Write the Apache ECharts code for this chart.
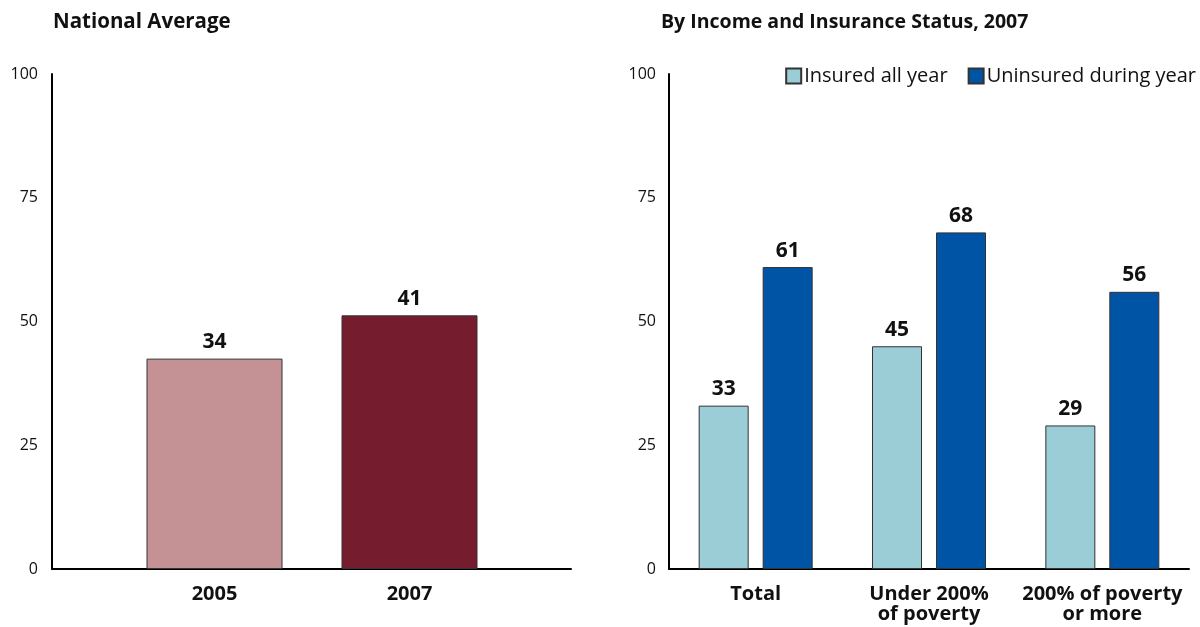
<!DOCTYPE html>
<html><head><meta charset="utf-8">
<script src="https://cdn.jsdelivr.net/npm/echarts@6/dist/echarts.min.js"></script>
<style>html,body{margin:0;padding:0;background:#fff}#c{width:1200px;height:627px}</style>
</head><body><div id="c"></div>
<script>
// Left panel: national average (drawn on a 0-80 scale, ticks labelled 0-100 as in the source)
const yearCats = ['2005', '2007'];
const nationalValues = [34, 41];
const leftTickLabels = ['0', '25', '50', '75', '100'];

// Right panel: by income and insurance status, 2007
const groupCats = ['Total', 'Under 200%\nof poverty', '200% of poverty\nor more'];
const insuredValues = [33, 45, 29];
const uninsuredValues = [61, 68, 56];
const seriesNames = ['Insured all year', 'Uninsured during year'];

const FONT = '"Open Sans", Lato, sans-serif';
const chart = echarts.init(document.getElementById('c'));
const barLabel = {show: true, position: 'top', distance: 6, fontFamily: FONT, fontWeight: 'bold', fontSize: 21, color: '#111'};
const axLine = {show: true, lineStyle: {color: '#000', width: 2}};

chart.setOption({
  animation: false,
  title: [
    {text: 'National Average', left: 53, top: 12, padding: 0, textStyle: {fontFamily: FONT, fontWeight: 'bold', fontSize: 20.5, color: '#111'}},
    {text: 'By Income and Insurance Status, 2007', left: 661, top: 12, padding: 0, textStyle: {fontFamily: FONT, fontWeight: 'bold', fontSize: 19.5, color: '#111'}}
  ],
  legend: {
    right: 4, top: 66, padding: 0, itemWidth: 15, itemHeight: 15, itemGap: 20,
    textStyle: {fontFamily: FONT, fontSize: 20, color: '#111', padding: [0, 0, 0, -2]},
    data: seriesNames.map(n => ({name: n, icon: 'rect'}))
  },
  grid: [
    {left: 52, right: 629, top: 74, bottom: 58, outerBoundsMode: 'none'},   // left axes frame
    {left: 117, right: 693, top: 74, bottom: 58, outerBoundsMode: 'none'},  // left bars
    {left: 669, right: 11, top: 74, bottom: 58, outerBoundsMode: 'none'}    // right panel
  ],
  xAxis: [
    {gridIndex: 0, type: 'value', min: 0, max: 1, axisLine: axLine, axisTick: {show: false}, axisLabel: {show: false}, splitLine: {show: false}},
    {gridIndex: 1, type: 'category', data: yearCats, axisLine: {show: false}, axisTick: {show: false},
     axisLabel: {fontFamily: FONT, fontWeight: 'bold', fontSize: 20, color: '#111', margin: 15, lineHeight: 20}},
    {gridIndex: 2, type: 'category', data: groupCats, axisLine: axLine, axisTick: {show: false},
     axisLabel: {fontFamily: FONT, fontWeight: 'bold', fontSize: 20, color: '#111', margin: 15, lineHeight: 20, interval: 0}}
  ],
  yAxis: [
    {gridIndex: 0, type: 'value', min: 0, max: 80, interval: 20, axisLine: axLine, axisTick: {show: false}, splitLine: {show: false},
     axisLabel: {fontFamily: FONT, fontSize: 16, color: '#111', margin: 14, formatter: (v) => leftTickLabels[Math.round(v / 20)]}},
    {gridIndex: 1, type: 'value', min: 0, max: 80, interval: 20, show: false},
    {gridIndex: 2, type: 'value', min: 0, max: 100, interval: 25, axisLine: axLine, axisTick: {show: false}, splitLine: {show: false},
     axisLabel: {fontFamily: FONT, fontSize: 16, color: '#111', margin: 13}}
  ],
  series: [
    {type: 'bar', xAxisIndex: 1, yAxisIndex: 1, barWidth: 136, label: barLabel,
     data: nationalValues.map((v, i) => ({value: v, itemStyle: {color: i === 0 ? '#C49295' : '#751C2F', borderColor: '#333', borderWidth: 1}}))},
    {name: seriesNames[0], type: 'bar', xAxisIndex: 2, yAxisIndex: 2, barWidth: 50, barGap: '28%', label: barLabel,
     itemStyle: {color: '#9ACDD6', borderColor: '#333', borderWidth: 1}, data: insuredValues},
    {name: seriesNames[1], type: 'bar', xAxisIndex: 2, yAxisIndex: 2, barWidth: 50, barGap: '28%', label: barLabel,
     itemStyle: {color: '#0054A6', borderColor: '#333', borderWidth: 1}, data: uninsuredValues}
  ]
});
</script></body></html>
